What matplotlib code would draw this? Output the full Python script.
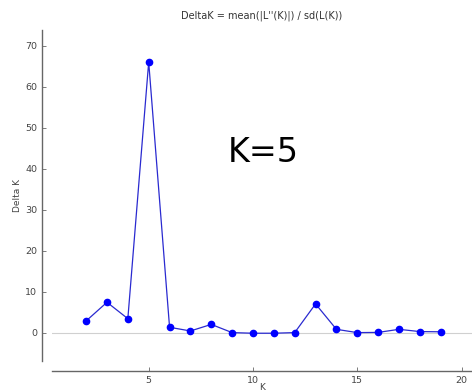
import matplotlib
matplotlib.use('Agg')
import matplotlib.pyplot as plt

# Delta K values
k_values = [2, 3, 4, 5, 6, 7, 8, 9, 10, 11, 12, 13, 14, 15, 16, 17, 18, 19]
delta_k = [2.85, 7.4, 3.4, 66.0, 1.3, 0.4, 2.0, 0.0, -0.15, -0.15, 0.0, 7.0,
           0.8, 0.0, 0.05, 0.8, 0.25, 0.2]
x_ticks = [5, 10, 15, 20]
y_ticks = [0, 10, 20, 30, 40, 50, 60, 70]

fig = plt.figure(figsize=(4.72, 3.91), dpi=100)
ax = fig.add_axes([0.110, 0.077, 0.89, 0.846])

# Zero reference line
ax.axhline(0, color='#d0d0d0', lw=0.8, zorder=1)
ax.plot(k_values, delta_k, color='#2a2ad0', lw=0.9, marker='o', ms=4.5,
        mfc='#0000ff', mec='#0000ff', zorder=3)

ax.set_xlim(0.36, 20.5)
ax.set_ylim(-6.9, 73.8)
ax.set_xticks(x_ticks)
ax.set_yticks(y_ticks)

# Detached spines
for side in ['top', 'right']:
    ax.spines[side].set_visible(False)
for side in ['left', 'bottom']:
    ax.spines[side].set_position(('outward', 7.2))
    ax.spines[side].set_color('#666666')
    ax.spines[side].set_linewidth(1.0)
ax.tick_params(direction='in', length=3, width=0.6, colors='#666666',
               labelsize=6.8, labelcolor='#444444')

ax.set_title("DeltaK = mean(|L''(K)|) / sd(L(K))", fontsize=7, color='#333333', pad=8)
ax.set_xlabel('K', fontsize=6.5, color='#444444', labelpad=-1)
ax.set_ylabel('Delta K', fontsize=6.5, color='#444444', labelpad=2)

ax.text(10.5, 44, 'K=5', fontsize=24, color='black', ha='center', va='center')

fig.savefig('out.png', dpi=100)
